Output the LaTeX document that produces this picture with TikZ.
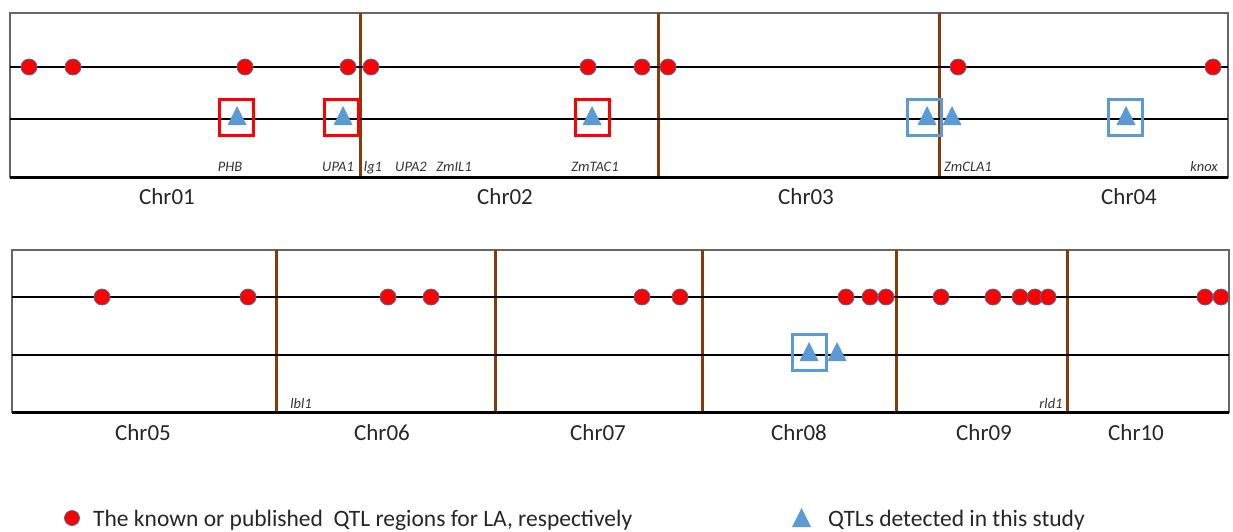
\documentclass[tikz,border=0pt]{standalone}
\usepackage{fontspec}
\setmainfont{Carlito}

\definecolor{qtlblue}{HTML}{5B9BD5}
\definecolor{rimblue}{HTML}{41719C}
\definecolor{chrbrown}{HTML}{843C0C}

\begin{document}
\begin{tikzpicture}[x=1pt, y=-1pt,
	frame/.style={draw=black!60, line width=1.2pt},
	chrline/.style={line width=2.8pt},
	border/.style={draw=chrbrown, line width=3pt},
	known/.style={circle, fill=red, draw=rimblue, line width=0.8pt, inner sep=0pt, minimum size=16pt},
	hit/.style={draw, line width=3pt, inner sep=0pt, minimum width=34pt, minimum height=36pt},
	chrname/.style={anchor=base, font=\fontsize{23}{26}\selectfont, text=black!85},
	gene/.style={anchor=base, font=\fontsize{14.5}{17}\selectfont\itshape, text=black!80},
	legend/.style={anchor=base west, inner sep=0pt, font=\fontsize{23.5}{26}\selectfont, text=black!85},
	found/.pic={\fill[qtlblue] (-9.5,6) -- (9.5,6) -- (0,-13) -- cycle;}]

	\useasboundingbox (0,0) rectangle (1233,531);

	% Chr01 -- Chr04
	\draw[frame] (10,13) rectangle (1228,177);
	\foreach \x in {360,658,939}
		\draw[border] (\x,13) -- (\x,177);
	\draw[chrline] (10,67) -- (1228,67);
	\draw[chrline] (10,119) -- (1228,119);
	\draw[line width=3pt] (10,177) -- (1228,177);

	\foreach \x in {236.5,341.5,592.5}
		\node[hit, draw=red] at (\x,117) {};
	\foreach \x in {924.5,1125.5}
		\node[hit, draw=qtlblue] at (\x,117) {};
	\foreach \x [count=\i] in {29,73,245,348,371,588,642,668,958,1213}
		\node[known] (up\i) at (\x,67) {};
	\foreach \x in {237,343,592,927,952,1126}
		\pic at (\x,119) {found};

	\node[gene] (phb) at (230,171) {PHB};
	\node[gene] (upa1) at (338,171) {UPA1};
	\node[gene] (lg1) at (373,171) {lg1};
	\node[gene] (upa2) at (411,171) {UPA2};
	\node[gene] (zmil1) at (454,171) {ZmIL1};
	\node[gene] (zmtac1) at (595,171) {ZmTAC1};
	\node[gene] (zmcla1) at (968,171) {ZmCLA1};
	\node[gene] (knox) at (1204,171) {knox};

	\node[chrname] (c1) at (167,204) {Chr01};
	\node[chrname] (c2) at (505,204) {Chr02};
	\node[chrname] (c3) at (806,204) {Chr03};
	\node[chrname] (c4) at (1129,204) {Chr04};

	% Chr05 -- Chr10
	\draw[frame] (12,250) rectangle (1229,412);
	\foreach \x in {276,495,702,896,1067}
		\draw[border] (\x,250) -- (\x,412);
	\draw[chrline] (12,297) -- (1229,297);
	\draw[chrline] (12,355) -- (1229,355);
	\draw[line width=3pt] (12,412) -- (1229,412);

	\node[hit, draw=qtlblue] at (809,352) {};
	\foreach \x [count=\i] in {102,248,388,431,642,680,846,870,886,941,993,1020,1035,1048,1205,1221}
		\node[known] (lo\i) at (\x,297) {};
	\foreach \x in {809,837}
		\pic at (\x,355) {found};

	\node[gene] (lbl1) at (301,408) {lbl1};
	\node[gene] (rld1) at (1051,408) {rld1};

	\node[chrname] (c5) at (143,440) {Chr05};
	\node[chrname] (c6) at (382,440) {Chr06};
	\node[chrname] (c7) at (598,440) {Chr07};
	\node[chrname] (c8) at (799,440) {Chr08};
	\node[chrname] (c9) at (984,440) {Chr09};
	\node[chrname] (c10) at (1136,440) {Chr10};

	% key
	\node[known, minimum size=15pt] (keyknown) at (72,518) {};
	\node[legend] (txtknown) at (93,526) {The known or published\ \ QTL regions for LA, respectively};
	\pic at (801.5,521) {found};
	\node[legend] (txtfound) at (828,526) {QTLs detected in this study};
\end{tikzpicture}
\end{document}
